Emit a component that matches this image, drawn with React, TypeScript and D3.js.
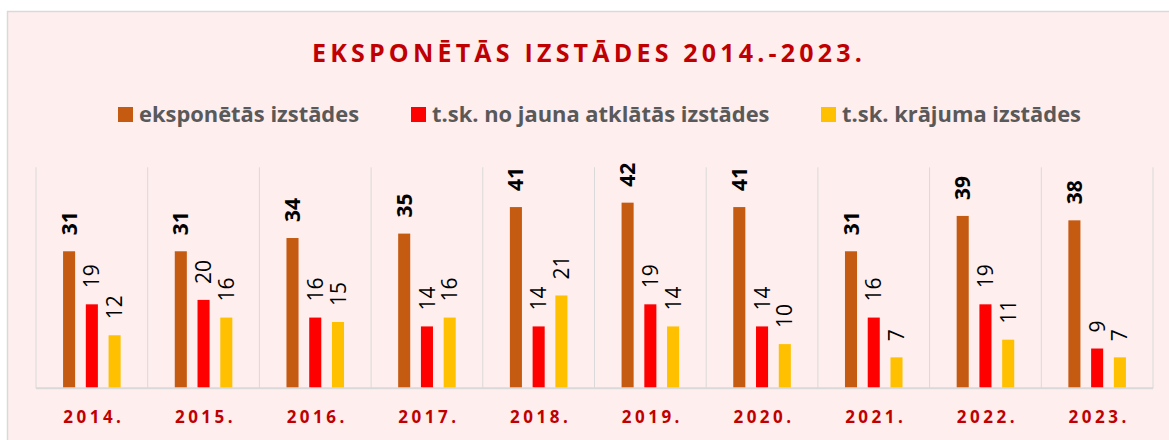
import React from "react";
import * as d3 from "d3";

const years = ["2014.", "2015.", "2016.", "2017.", "2018.", "2019.", "2020.", "2021.", "2022.", "2023."];
const seriesNames = ["eksponētās izstādes", "t.sk. no jauna atklātās izstādes", "t.sk. krājuma izstādes"];
const exhibited = [31, 31, 34, 35, 41, 42, 41, 31, 39, 38];
const newlyOpened = [19, 20, 16, 14, 14, 19, 14, 16, 19, 9];
const fromStock = [12, 16, 15, 16, 21, 14, 10, 7, 11, 7];
const colors = ["#C55A11", "#FF0000", "#FFC000"];
const title = "EKSPONĒTĀS IZSTĀDES 2014.-2023.";

const W = 1169;
const H = 440;
const FONT = "'Open Sans', 'DejaVu Sans', sans-serif";

export default function App() {
  const series = [exhibited, newlyOpened, fromStock];
  const x = d3.scaleBand<string>().domain(years).range([36, 1153]).paddingInner(0).paddingOuter(0);
  const xi = d3
    .scaleBand<number>()
    .domain([0, 1, 2])
    .range([0, x.bandwidth()])
    .paddingInner(0.47)
    .paddingOuter(1.19);
  const y = d3.scaleLinear().domain([0, 50]).range([388.3, 167.3]);

  const legendX = [118, 411, 821];

  return (
    <svg
      width={W}
      height={H}
      style={{ position: "absolute", left: 0, top: 0, display: "block" }}
      fontFamily={FONT}
    >
      <rect x={0} y={0} width={W} height={H} fill="#FFFFFF" />
      <rect x={7.5} y={11.5} width={W + 10} height={H + 10} fill="#FFEEEE" stroke="#D9D9D9" strokeWidth={1.5} />

      <text x={312} y={62} fontSize={25} fontWeight={700} letterSpacing={4.2} fill="#C00000">
        {title}
      </text>

      {seriesNames.map((name, i) => (
        <g key={name}>
          <rect x={legendX[i]} y={107} width={15} height={15} fill={colors[i]} />
          <text x={legendX[i] + 21} y={122} fontSize={21.9} fontWeight={700} fill="#595959">
            {name}
          </text>
        </g>
      ))}

      {[...years.map((yr) => x(yr)!), 1153].map((gx, i) => (
        <line key={i} x1={gx} x2={gx} y1={y(50)} y2={y(0)} stroke="#D9D9D9" strokeWidth={1} />
      ))}

      {years.map((yr, ci) => (
        <g key={yr}>
          {series.map((vals, si) => {
            const bx = x(yr)! + xi(si)!;
            const bw = xi.bandwidth();
            const v = vals[ci];
            const top = y(v);
            const cx = bx + bw / 2;
            const ly = top - 16;
            return (
              <g key={si}>
                <rect x={bx} y={top} width={bw} height={y(0) - top} fill={colors[si]} />
                <text
                  transform={`translate(${cx},${ly}) rotate(-90)`}
                  dy="0.36em"
                  fontSize={21}
                  fontWeight={si === 0 ? 700 : 400}
                  fill="#000000"
                >
                  {v}
                </text>
              </g>
            );
          })}
          <text
            x={x(yr)! + x.bandwidth() / 2 + 2}
            y={423}
            textAnchor="middle"
            fontSize={17}
            fontWeight={700}
            letterSpacing={3.5}
            fill="#C00000"
          >
            {yr}
          </text>
        </g>
      ))}

      <line x1={36} x2={1153} y1={y(0)} y2={y(0)} stroke="#D9D9D9" strokeWidth={2} />
    </svg>
  );
}
